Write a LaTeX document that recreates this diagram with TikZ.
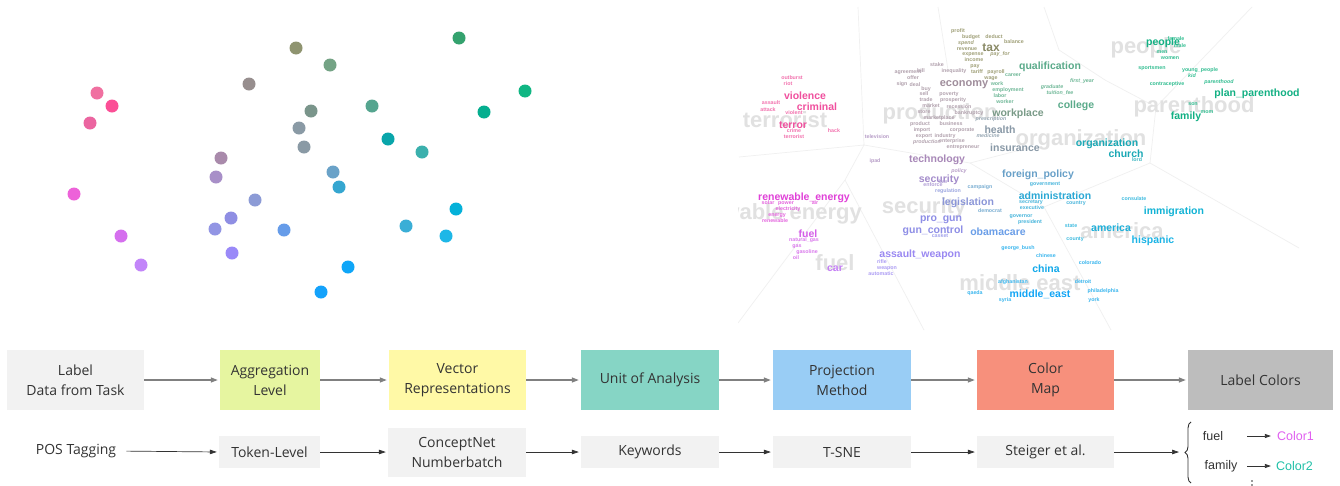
\documentclass[tikz,border=0pt]{standalone}
\usepackage{fontspec}
\setmainfont{Open Sans}
\newfontfamily\cwfont{Liberation Sans}
\newfontfamily\lcfont{Liberation Sans}
\usetikzlibrary{arrows.meta,decorations.pathreplacing}

% word-cloud palette
\definecolor{bgc}{HTML}{E1E1E1}
\definecolor{pk}{HTML}{F0509E}\definecolor{pkl}{HTML}{F272AE}
\definecolor{ol}{HTML}{8A8A66}\definecolor{oll}{HTML}{A0A078}
\definecolor{mv}{HTML}{A08E9C}\definecolor{mvl}{HTML}{B2A2AE}
\definecolor{gg}{HTML}{7A9B88}\definecolor{gb}{HTML}{8898A6}\definecolor{gbl}{HTML}{98A8B4}
\definecolor{gn}{HTML}{5AAA8A}\definecolor{gnl}{HTML}{70B898}
\definecolor{tg}{HTML}{12B083}\definecolor{tgl}{HTML}{34BE92}
\definecolor{tl}{HTML}{1AA8B5}\definecolor{tll}{HTML}{40B8C2}
\definecolor{pu}{HTML}{A888B8}\definecolor{pul}{HTML}{B89EC8}
\definecolor{sv}{HTML}{A48CCB}\definecolor{svl}{HTML}{B09ED6}
\definecolor{lv}{HTML}{8B96D8}\definecolor{lvl}{HTML}{9CA6E0}
\definecolor{iv}{HTML}{8E8EE6}\definecolor{ivl}{HTML}{A2A2EC}
\definecolor{av}{HTML}{9A88F2}\definecolor{avl}{HTML}{AC9CF4}
\definecolor{ob}{HTML}{6A9EE8}
\definecolor{fb}{HTML}{68A0C8}\definecolor{fbl}{HTML}{7AAED2}
\definecolor{ad}{HTML}{2AA8D5}\definecolor{adl}{HTML}{4AB6DC}
\definecolor{cb}{HTML}{10A8EA}\definecolor{cbl}{HTML}{3AB6EE}
\definecolor{mb}{HTML}{12A5F5}
\definecolor{am}{HTML}{1EB0DA}\definecolor{aml}{HTML}{40BCE0}
\definecolor{im}{HTML}{12B3D5}\definecolor{hi}{HTML}{1CB4E6}
\definecolor{rm}{HTML}{E040D8}\definecolor{rml}{HTML}{E466DE}
\definecolor{fm}{HTML}{D45EE8}\definecolor{fml}{HTML}{DA7AEC}
\definecolor{cv}{HTML}{C47EF5}
% pipeline palette
\definecolor{boxgray}{HTML}{F2F2F2}
\definecolor{aggr}{HTML}{E6F5A0}
\definecolor{vect}{HTML}{FFF9A6}
\definecolor{unit}{HTML}{86D5C5}
\definecolor{proj}{HTML}{99CDF5}
\definecolor{cmap}{HTML}{F7907C}
\definecolor{lcol}{HTML}{BDBDBD}
\definecolor{txt}{HTML}{333333}
\definecolor{colA}{HTML}{E060F0}
\definecolor{colB}{HTML}{20C0A8}

\newcounter{cwn}
% one word of the cloud: x, y (centre), size, colour, text
\newcommand\cw[5]{\stepcounter{cwn}%
  \node[anchor=base,inner sep=0pt,name=cw\arabic{cwn},
        font=\cwfont\bfseries\fontsize{#3}{#3}\selectfont,text=#4]
        at ({#1},{#2+0.3*#3}) {#5};}
\newcommand\cwi[5]{\stepcounter{cwn}%
  \node[anchor=base,inner sep=0pt,name=cw\arabic{cwn},
        font=\cwfont\bfseries\itshape\fontsize{#3}{#3}\selectfont,text=#4]
        at ({#1},{#2+0.3*#3}) {#5};}

\tikzset{
  stage/.style={draw=none,inner sep=0pt,align=center,text=txt,
    font=\fontsize{14}{20}\selectfont,minimum height=60pt},
  param/.style={draw=none,inner sep=0pt,align=center,text=txt,fill=boxgray,
    font=\fontsize{14}{20}\selectfont,minimum height=32pt},
  flow/.style={draw=black!50,line width=1.3pt,
    -{Triangle[length=7pt,width=5pt]},shorten >=2pt},
  thinflow/.style={draw=black!80,line width=0.7pt,
    -{Triangle[length=7pt,width=4.5pt]},shorten >=2pt},
  cell/.style={draw=black!6,line width=0.7pt},
}

\begin{document}
\begin{tikzpicture}[x=1pt,y=-1pt]
\useasboundingbox (0,0) rectangle (1340,485);
\fill[white] (0,0) rectangle (1340,485);

% ---------- projected label embeddings ----------
\foreach \px/\py/\pc in {
  296/48/8F9470, 330/65/74A385, 249/84/978E8E, 459/38/34A26E,
  525/91/10B683, 484/112/05AE8F, 372/106/55A58F, 311/111/7A958B,
  299/128/8A9AA5, 304/147/8A9AA5, 388/139/09A5AA, 422/152/3BB0AD,
  97/93/F070A0, 112/106/FB4F96, 90/123/EB65A0, 221/158/A98AAB,
  216/177/A88FC8, 333/172/6AA2C8, 339/187/35A6D0, 74/194/ED62D9,
  255/200/8C9BD6, 231/218/8F8EE3, 215/229/9295E4, 284/230/669CE9,
  456/209/05B1D9, 406/226/3AAED6, 446/236/1EB7E7, 121/236/D56FEE,
  232/253/9A89F8, 141/265/C285F9, 348/267/0FA6F8, 321/292/14A2FB}
  {\definecolor{dc}{HTML}{\pc}\fill[dc] (\px,\py) circle (6.5);}

% ---------- word cloud ----------
\begin{scope}
\clip (738,0) rectangle (1340,330);
% cell borders
\draw[cell] (858,7) -- (864,145) -- (739,157);
\draw[cell] (864,145) -- (845,180) -- (738,323);
\draw[cell] (845,180) -- (924,330);
\draw[cell] (864,145) -- (970,163) -- (1028,148);
\draw[cell] (938,7) -- (948,70);
\draw[cell] (1044,7) -- (1059,50) -- (1105,80) -- (1156,107) -- (1252,7);
\draw[cell] (1156,107) -- (1150,163) -- (1299,248);
\draw[cell] (1150,163) -- (1044,207) -- (1111,330);
\draw[cell] (970,163) -- (1044,207);

% background words
\node[anchor=base east,inner sep=0pt,font=\cwfont\bfseries\fontsize{22}{22}\selectfont,
      text=bgc,name=bgre] at (862,219.6) {renewable energy};
\cw{785}{121}{22}{bgc}{terrorist}
\cw{940}{113}{22}{bgc}{production}
\cw{1081}{139}{22}{bgc}{organization}
\cw{1146}{47}{22}{bgc}{people}
\cw{1194}{106}{22}{bgc}{parenthood}
\cw{924}{207}{22}{bgc}{security}
\cw{835}{264}{22}{bgc}{fuel}
\cw{1122}{232}{22}{bgc}{america}
\cw{1020}{284}{22}{bgc}{middle east}

% violence
\cw{792}{78}{5.3}{pkl}{outburst}
\cw{788}{84}{5.3}{pkl}{riot}
\cw{805}{96}{10.5}{pk}{violence}
\cw{817}{107}{10.5}{pk}{criminal}
\cw{771}{103}{5.3}{pkl}{assault}
\cw{768}{110}{5.3}{pkl}{attack}
\cw{794}{113}{5.3}{pkl}{violent}
\cw{793}{125}{10.5}{pk}{terror}
\cw{794}{131}{5.3}{pkl}{crime}
\cw{834}{131}{5.3}{pkl}{hack}
\cw{794}{137}{5.3}{pkl}{terrorist}

% technology
\cw{877}{137}{5.3}{pul}{television}
\cw{875}{161}{5.3}{pul}{ipad}
\cw{937}{159}{10.5}{pu}{technology}

% economy
\cw{958}{31}{5.3}{oll}{profit}
\cw{971}{37}{5.3}{oll}{budget}
\cw{994}{37}{5.3}{oll}{deduct}
\cw{1014}{42}{5.3}{oll}{balance}
\cwi{966}{43}{5.3}{oll}{spend}
\cw{991}{48}{12}{ol}{tax}
\cw{967}{49}{5.3}{oll}{revenue}
\cw{973}{54}{5.3}{oll}{expense}
\cwi{1000}{54}{5.3}{oll}{pay\_for}
\cw{974}{60}{5.3}{oll}{income}
\cw{937}{65}{5.3}{mvl}{stake}
\cw{975}{66}{5.3}{oll}{pay}
\cw{908}{72}{5.3}{mvl}{agreement}
\cw{921}{71}{5.3}{mvl}{bill}
\cw{954}{71}{5.3}{mvl}{inequality}
\cw{977}{72}{5.3}{oll}{tariff}
\cw{996}{72}{5.3}{oll}{payroll}
\cw{1013}{75}{5.3}{gnl}{career}
\cw{913}{78}{5.3}{mvl}{offer}
\cw{991}{78}{5.3}{oll}{wage}
\cw{964}{83}{11}{mv}{economy}
\cw{902}{84}{5.3}{mvl}{sign}
\cw{915}{85}{5.3}{mvl}{deal}
\cw{997}{84}{5.3}{gnl}{work}
\cw{926}{89}{5.3}{mvl}{buy}
\cw{1008}{90}{5.3}{gnl}{employment}
\cw{924}{94}{5.3}{mvl}{sell}
\cw{949}{94}{5.3}{mvl}{poverty}
\cw{1000}{96}{5.3}{gnl}{labor}
\cw{926}{100}{5.3}{mvl}{trade}
\cw{953}{100}{5.3}{mvl}{prosperity}
\cw{1005}{102}{5.3}{gnl}{worker}
\cw{931}{106}{5.3}{mvl}{market}
\cw{959}{107}{5.3}{mvl}{recession}
\cw{1018}{113}{10.5}{gg}{workplace}
\cw{924}{112}{5.3}{mvl}{store}
\cw{969}{113}{5.3}{mvl}{bankruptcy}
\cw{939}{118}{5.3}{mvl}{marketplace}
\cwi{991}{119}{5.3}{gbl}{prescription}
\cw{920}{124}{5.3}{mvl}{product}
\cw{951}{124}{5.3}{mvl}{business}
\cw{1000}{130}{10.5}{gb}{health}
\cw{922}{130}{5.3}{mvl}{import}
\cw{962}{130}{5.3}{mvl}{corporate}
\cw{924}{136}{5.3}{mvl}{export}
\cw{945}{136}{5.3}{mvl}{industry}
\cwi{988}{136}{5.3}{gbl}{medicine}
\cwi{927}{142}{5.3}{mvl}{production}
\cw{952}{141}{5.3}{mvl}{enterprise}
\cw{1015}{148}{10.5}{gb}{insurance}
\cw{963}{147}{5.3}{mvl}{entrepreneur}

% education and family
\cw{1050}{66}{10.5}{gn}{qualification}
\cwi{1082}{81}{5.3}{gnl}{first\_year}
\cwi{1052}{87}{5.3}{gnl}{graduate}
\cwi{1060}{93}{5.3}{gnl}{tuition\_fee}
\cw{1076}{105}{10.5}{gn}{college}
\cw{1163}{42}{10.5}{tg}{people}
\cw{1176}{39}{5.3}{tgl}{female}
\cw{1180}{46}{5.3}{tgl}{male}
\cw{1162}{52}{5.3}{tgl}{men}
\cw{1170}{58}{5.3}{tgl}{women}
\cw{1152}{68}{5.3}{tgl}{sportsmen}
\cw{1200}{70}{5.3}{tgl}{young\_people}
\cwi{1192}{76}{5.3}{tgl}{kid}
\cwi{1219}{82}{5.3}{tgl}{parenthood}
\cw{1167}{84}{5.3}{tgl}{contraceptive}
\cw{1257}{93}{10.5}{tg}{plan\_parenthood}
\cw{1193}{104}{5.3}{tgl}{son}
\cw{1186}{116}{10.5}{tg}{family}
\cw{1207}{112}{5.3}{tgl}{mom}
\cw{1107}{143}{10.5}{tl}{organization}
\cw{1126}{154}{10.5}{tl}{church}
\cw{1137}{160}{5.3}{tll}{lord}

% politics
\cw{939}{179}{10.5}{sv}{security}
\cwi{959}{171}{5.3}{pul}{policy}
\cw{933}{185}{5.3}{svl}{enforce}
\cw{943}{182}{5.3}{svl}{law}
\cw{948}{191}{5.3}{lvl}{regulation}
\cw{980}{187}{5.3}{fbl}{campaign}
\cw{1038}{174}{10.5}{fb}{foreign\_policy}
\cw{1045}{184}{5.3}{adl}{government}
\cw{1055}{196}{10.5}{ad}{administration}
\cw{1031}{202}{5.3}{adl}{secretary}
\cw{1032}{208}{5.3}{adl}{executive}
\cw{1076}{203}{5.3}{adl}{country}
\cw{968}{202}{10.5}{lv}{legislation}
\cw{990}{211}{5.3}{fbl}{democrat}
\cw{1021}{216}{5.3}{adl}{governor}
\cw{1030}{222}{5.3}{adl}{president}
\cw{941}{218}{10.5}{iv}{pro\_gun}
\cw{933}{230}{10.5}{iv}{gun\_control}
\cw{940}{236}{5.3}{ivl}{casket}
\cw{998}{232}{10.5}{ob}{obamacare}
\cw{1018}{248}{5.3}{cbl}{george\_bush}

% energy
\cw{804}{197}{10.5}{rm}{renewable\_energy}
\cw{768}{203}{5.3}{rml}{solar}
\cw{786}{203}{5.3}{rml}{power}
\cw{815}{203}{5.3}{rml}{air}
\cw{788}{209}{5.3}{rml}{electricity}
\cw{777}{215}{5.3}{rml}{energy}
\cw{775}{221}{5.3}{rml}{renewable}
\cw{808}{234}{10.5}{fm}{fuel}
\cw{804}{240}{5.3}{fml}{natural\_gas}
\cw{797}{246}{5.3}{fml}{gas}
\cw{807}{252}{5.3}{fml}{gasoline}
\cw{796}{258}{5.3}{fml}{oil}
\cw{835}{268}{10.5}{cv}{car}

% weapons
\cw{920}{254}{10.5}{av}{assault\_weapon}
\cw{882}{262}{5.3}{avl}{rifle}
\cw{887}{268}{5.3}{avl}{weapon}
\cw{881}{274}{5.3}{avl}{automatic}

% places
\cw{1013}{282}{5.3}{cbl}{afghanistan}
\cw{975}{293}{5.3}{cbl}{qaeda}
\cw{1005}{300}{5.3}{cbl}{syria}
\cw{1040}{294}{10.5}{mb}{middle\_east}
\cw{1046}{269}{10.5}{cb}{china}
\cw{1046}{256}{5.3}{cbl}{chinese}
\cw{1134}{199}{5.3}{aml}{consulate}
\cw{1174}{211}{10.5}{im}{immigration}
\cw{1071}{226}{5.3}{aml}{state}
\cw{1111}{228}{10.5}{am}{america}
\cw{1075}{239}{5.3}{aml}{county}
\cw{1153}{240}{10.5}{hi}{hispanic}
\cw{1090}{263}{5.3}{cbl}{colorado}
\cw{1083}{282}{5.3}{cbl}{detroit}
\cw{1103}{291}{5.3}{cbl}{philadelphia}
\cw{1094}{300}{5.3}{cbl}{york}
\end{scope}

% ---------- pipeline: stages ----------
\node[stage,fill=boxgray,minimum width=137pt] (s1) at (75.5,380) {Label\\Data from Task};
\node[stage,fill=aggr,minimum width=100pt] (s2) at (270,380) {Aggregation\\Level};
\node[stage,fill=vect,minimum width=137pt] (s3) at (457.5,380) {Vector\\Representations};
\node[stage,fill=unit,minimum width=138pt] (s4) at (650,380) {Unit of Analysis};
\node[stage,fill=proj,minimum width=138pt] (s5) at (842,380) {Projection\\Method};
\node[stage,fill=cmap,minimum width=137pt] (s6) at (1045.5,380) {Color\\Map};
\node[stage,fill=lcol,minimum width=145pt] (s7) at (1260.5,380) {Label Colors};
\foreach \a/\b in {s1/s2,s2/s3,s3/s4,s4/s5,s5/s6,s6/s7}
  \draw[flow] (\a) -- (\b);

% ---------- pipeline: choices ----------
\node[inner sep=0pt,text=txt,font=\fontsize{14}{20}\selectfont] (p1) at (76,451) {POS Tagging};
\node[param,minimum width=101pt] (p2) at (269.5,452) {Token-Level};
\node[param,minimum width=138pt,minimum height=49pt] (p3) at (457,452.5) {ConceptNet\\Numberbatch};
\node[param,minimum width=138pt] (p4) at (650,452) {Keywords};
\node[param,minimum width=138pt] (p5) at (842,452) {T-SNE};
\node[param,minimum width=137pt] (p6) at (1045.5,452) {Steiger et al.};
\draw[thinflow,shorten <=10pt] (p1.east) -- (p2.west);
\foreach \a/\b in {p2/p3,p3/p4,p4/p5,p5/p6}
  \draw[thinflow] (\a.east|-p2) -- (\b.west|-p2);

% resulting label colours
\draw[black!80,line width=0.9pt,decorate,decoration={brace,amplitude=6pt}]
  (1191,483) -- (1191,422) coordinate[midway] (brc);
\coordinate (tip) at (1181,452);
\draw[thinflow] (p6.east) -- (tip);
\node[inner sep=0pt,text=txt,font=\lcfont\fontsize{12.5}{14}\selectfont] (w1) at (1213,436) {fuel};
\node[inner sep=0pt,text=txt,font=\lcfont\fontsize{12.5}{14}\selectfont] (w2) at (1221,466) {family};
\node[inner sep=0pt,text=colA,font=\lcfont\fontsize{12.5}{14}\selectfont] (c1) at (1295.5,436) {Color1};
\node[inner sep=0pt,text=colB,font=\lcfont\fontsize{12.5}{14}\selectfont] (c2) at (1294.5,466) {Color2};
\coordinate (a1) at (1247,436); \coordinate (a2) at (1247,466);
\draw[thinflow,shorten >=6pt,-{Triangle[length=6pt,width=4pt]}] (a1) -- (c1.west);
\draw[thinflow,shorten >=5pt,-{Triangle[length=6pt,width=4pt]}] (a2) -- (c2.west);
\fill[black!80] (1252,481) circle (0.9) (1252,485) circle (0.9);
\end{tikzpicture}
\end{document}
